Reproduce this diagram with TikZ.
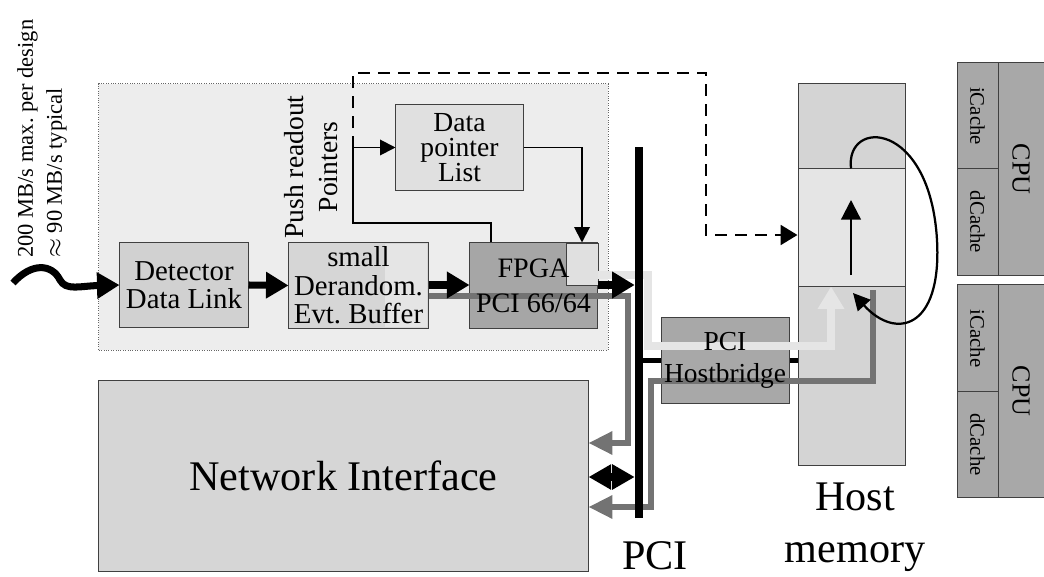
\documentclass[tikz,border=0pt]{standalone}
\usepackage{fontspec}
\setmainfont{Liberation Serif}
\usetikzlibrary{arrows.meta}

\newcommand\fsz[2]{\fontsize{#1}{#2}\selectfont}
\frenchspacing

\begin{document}
\begin{tikzpicture}[x=0.025cm,y=-0.025cm,>=Triangle,
  box/.style={draw=black!75,line width=0.7pt,inner sep=0pt,align=center},
  fatarrow/.style={line width=5pt,-{Triangle[length=16pt,width=18pt]}},
  thinarrow/.style={line width=1.4pt,-{Triangle[length=11pt,width=11pt]}},
  lightpath/.style={line width=5pt,draw=black!10,-{Triangle[length=16pt,width=18pt]}},
  darkpath/.style={line width=3.6pt,draw=black!55,-{Triangle[length=17pt,width=16pt]}}]
  \useasboundingbox (0,0) rectangle (1044,577);

  % readout card
  \node[box,draw=black!60,densely dotted,fill=black!7,minimum width=12.725cm,minimum height=6.65cm] (card) at (353.5,217) {};
  \node[box,fill=black!18,minimum width=3.2cm,minimum height=2.1cm] (det) at (184,285) {};
  \node[box,fill=black!16,minimum width=3.475cm,minimum height=2.125cm] (buf) at (358.5,285.5) {};
  \fill[black!10] (385,243.7) rectangle (427.3,327.3);
  \node[box,fill=black!35,minimum width=3.175cm,minimum height=2.125cm] (fpga) at (533.5,285.5) {};
  \node[box,fill=black!12,minimum width=0.8cm,minimum height=1.05cm] (fifo) at (582,264) {};
  \node[box,fill=black!12,minimum width=3.175cm,minimum height=2.125cm] (dpl) at (459.5,147.5) {};

  % host side
  \node[box,fill=black!34,minimum width=3.2cm,minimum height=2.125cm] (hb) at (725,360.5) {};
  \node[box,fill=black!16,minimum width=12.225cm,minimum height=4.75cm] (ni) at (343.5,476) {};
  \node[box,fill=black!17,minimum width=2.675cm,minimum height=2.125cm] (mtop) at (851.5,126.5) {};
  \node[box,fill=black!10,minimum width=2.675cm,minimum height=2.95cm] (mmid) at (851.5,228) {};
  \node[box,fill=black!17,minimum width=2.675cm,minimum height=4.45cm] (mbot) at (851.5,376) {};

  % CPUs
  \node[box,fill=black!34,minimum width=1.025cm,minimum height=2.65cm] (ic1) at (977.5,116) {};
  \node[box,fill=black!34,minimum width=1.025cm,minimum height=2.65cm] (dc1) at (977.5,222) {};
  \node[box,fill=black!34,minimum width=1.15cm,minimum height=5.3cm] (core1) at (1021,169) {};
  \node[box,fill=black!34,minimum width=1.025cm,minimum height=2.675cm] (ic2) at (977.5,338.5) {};
  \node[box,fill=black!34,minimum width=1.025cm,minimum height=2.625cm] (dc2) at (977.5,444.5) {};
  \node[box,fill=black!34,minimum width=1.15cm,minimum height=5.3cm] (core2) at (1021,391) {};

  % data flow
  \coordinate (link) at (13,283);
  \draw[fatarrow] (link) .. controls (32,262) and (52,264) .. (60,280) .. controls (66,291) and (80,286) .. (det.west);
  \draw[fatarrow] (det.east) -- (buf.west);
  \draw[darkpath] (buf.east |- 0,296) -- (628,296) -- (628,443) -- (ni.east |- 0,443);
  \draw[fatarrow] (buf.east |- 0,285) -- (fpga.west |- 0,285);
  \draw[lightpath] (fpga.east |- 0,275) -- (648,275) -- (648,346) -- (831,346) -- (mbot.north -| 831,0);
  \draw[darkpath] (873,290) -- (873,381) -- (651,381) -- (651,507) -- (ni.east |- 0,507);

  % pointers
  \draw[line width=2.1pt,dash pattern=on 8.5pt off 5.7pt,-{Triangle[length=12pt,width=14pt]}]
    (353,148) -- (353,73) -- (706,73) -- (706,235) -- (mmid.west |- 0,235);
  \draw[thinarrow] (fpga.north -| 491,0) -- (491,223) -- (353,223) -- (353,147.5) -- (dpl.west);
  \draw[thinarrow] (dpl.east) -| (fifo.north);

  % memory
  \draw[line width=1.6pt,-{Triangle[length=14pt,width=14pt]}] (851,275) -- (851,200);
  \draw[line width=1.6pt,-{Triangle[length=12pt,width=12pt]}] (mmid.north -| 851,0)
    .. controls (845,118) and (930,120) .. (937,240) .. controls (942,330) and (895,340) .. (853,293);

  % PCI bus
  \node[fill=black,inner sep=0pt,minimum width=0.2cm,minimum height=9.275cm] (bus) at (639,332.5) {};
  \draw[fatarrow] (fpga.east |- 0,285) -- (bus.west |- 0,285);
  \draw[line width=5pt,{Triangle[length=16pt,width=17pt]}-{Triangle[length=16pt,width=17pt]}] (ni.east |- 0,477) -- (bus.west |- 0,477);
  \draw[line width=4pt] (bus.east |- hb.west) -- (hb.west);
  \draw[line width=4pt] (hb.east) -- (mbot.west |- hb.east);

  % texts
  \node[font=\fsz{20.5}{20.3},align=center] (dettext) at (det) {Detector\\Data Link};
  \node[font=\fsz{20.5}{20.3},align=center] (buftext) at (buf) {small\\Derandom.\\Evt. Buffer};
  \node[font=\fsz{20}{25},align=center] (fpgatext) at (fpga) {FPGA\\PCI 66/64};
  \node[font=\fsz{19.6}{18},align=center] (dpltext) at (dpl) {Data\\pointer\\List};
  \node[font=\fsz{19.5}{22.7},align=center] (hbtext) at (hb) {PCI\\Hostbridge};
  \node[font=\fsz{30}{36}] (nitext) at (ni) {Network Interface};
  \node[font=\fsz{19.6}{24},align=center,rotate=90] (pushtext) at (311,167) {Push readout\\Pointers};
  \node[font=\fsz{16}{20.6},align=left,rotate=90,anchor=west,inner sep=0pt] (rate) at (42,258) {200 MB/s max. per design\\$\approx$ 90 MB/s typical};
  \node[font=\fsz{30}{37},align=center,anchor=north] (memtext) at (855,478) {Host\\memory};
  \node[font=\fsz{30}{36},anchor=base,inner sep=0pt] (pcitext) at (655,569) {PCI};
  \foreach \n in {ic1,ic2} \node[font=\fsz{14.8}{16},rotate=-90] at (\n) {iCache};
  \foreach \n in {dc1,dc2} \node[font=\fsz{14.8}{16},rotate=-90] at (\n) {dCache};
  \foreach \n in {core1,core2} \node[font=\fsz{18.5}{20},rotate=-90] at (\n) {CPU};
\end{tikzpicture}
\end{document}
